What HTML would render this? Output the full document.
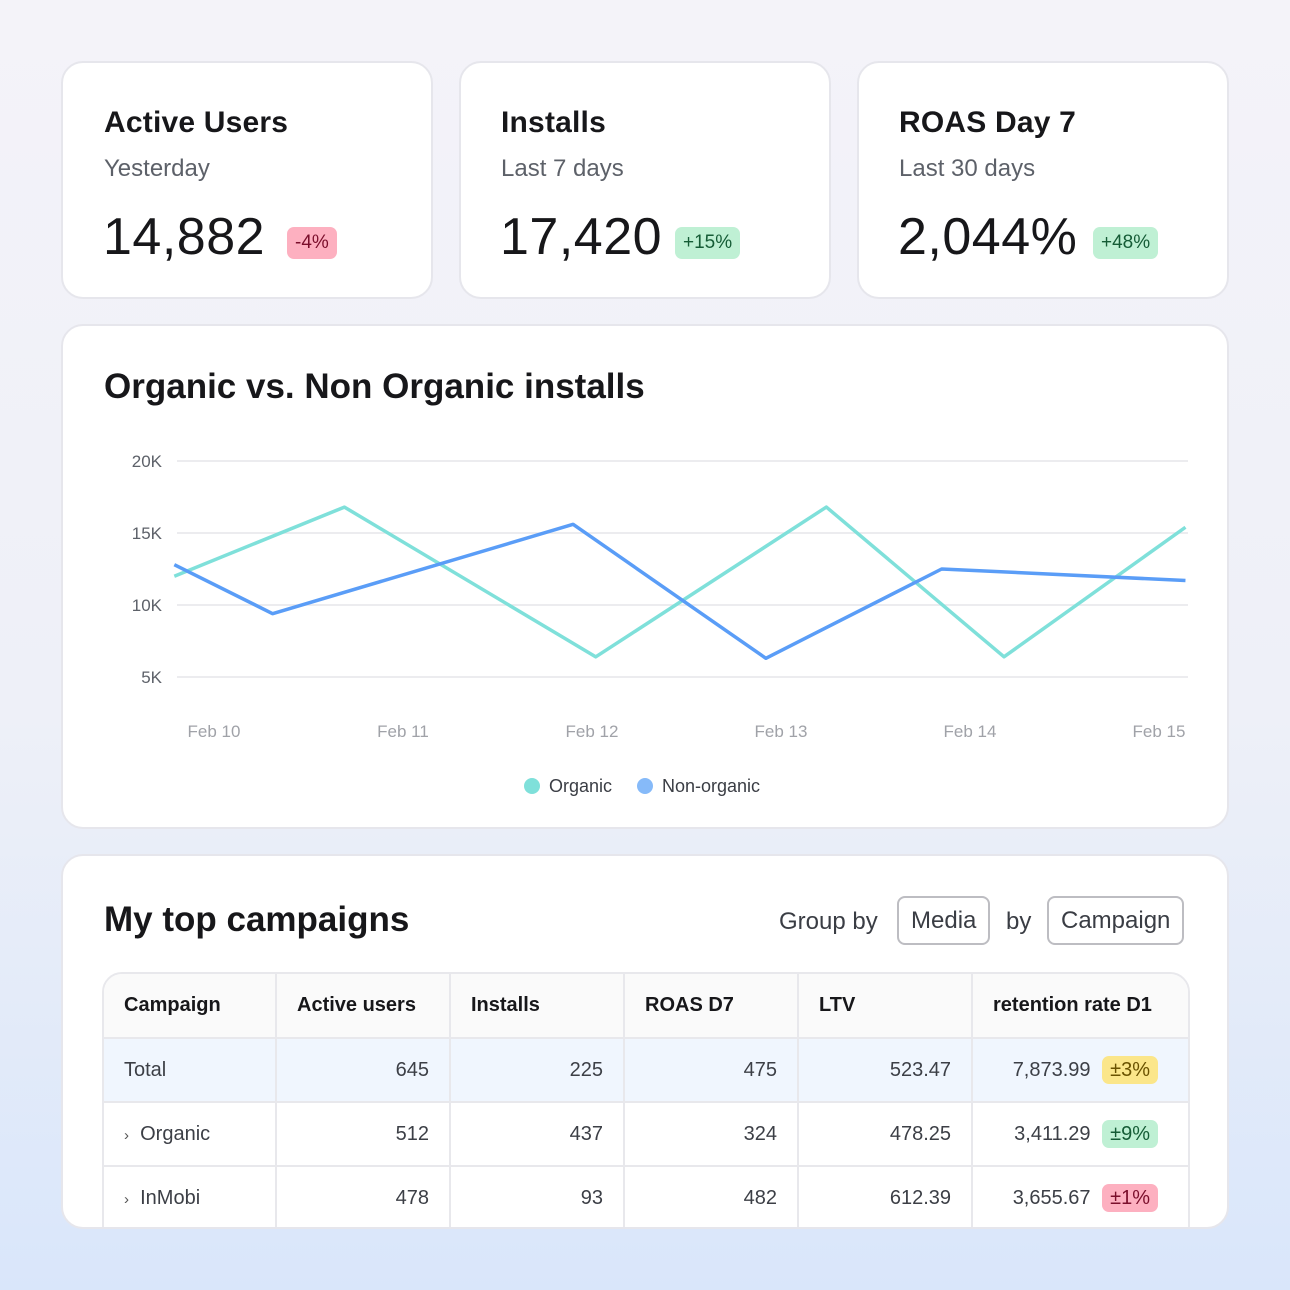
<!DOCTYPE html>
<html><head><meta charset="utf-8"><style>
*{box-sizing:border-box;margin:0;padding:0}
body{width:1290px;height:1290px;overflow:hidden;font-family:"Liberation Sans",sans-serif;background:linear-gradient(180deg,#f4f3f9 0%,#eef0f8 55%,#d9e6fa 100%);position:relative;color:#17171a}
.card{position:absolute;background:#fff;border:2px solid #e6e6ec;border-radius:22px;overflow:hidden}
.abs{position:absolute;white-space:nowrap}
.t{font-size:30px;font-weight:bold;letter-spacing:.2px}
.s{font-size:24px;color:#5d6169}
.big{font-size:52px;letter-spacing:0.5px}
.badge{position:absolute;font-size:19px;padding:5px 8px;border-radius:7px}
.neg{background:#fdb0c0;color:#7b0f2c}.pos{background:#bff0d4;color:#155c36}.yel{background:#fbe68a;color:#6a5200}
.btn{position:absolute;border:2px solid #bdbdc2;border-radius:8px;font-size:24px;color:#3a3d44;padding:0 12px;height:49px;line-height:45px}
table{border-collapse:collapse;position:absolute;left:40px;top:116px;font-size:20px}
td,th{border-right:2px solid #e8e8ec;border-bottom:2px solid #e8e8ec;height:64px;padding:0 20px}
th{font-weight:bold;text-align:left;background:#fafafa}
td{text-align:right;color:#3c3f46}
td:first-child{text-align:left}
tr.tot td{background:#f0f6fe}
td.rr{padding-right:30px}
.chev{font-size:15px;color:#555}
</style></head><body>
<div class="card" style="left:61px;top:61px;width:372px;height:238px">
 <div class="abs t" style="left:41px;top:43px">Active Users</div>
 <div class="abs s" style="left:41px;top:92px">Yesterday</div>
 <div class="abs big" style="left:40px;top:144px">14,882</div>
 <div class="badge neg" style="left:224px;top:164px">-4%</div>
</div>
<div class="card" style="left:459px;top:61px;width:372px;height:238px">
 <div class="abs t" style="left:40px;top:43px">Installs</div>
 <div class="abs s" style="left:40px;top:92px">Last 7 days</div>
 <div class="abs big" style="left:39px;top:144px">17,420</div>
 <div class="badge pos" style="left:214px;top:164px">+15%</div>
</div>
<div class="card" style="left:857px;top:61px;width:372px;height:238px">
 <div class="abs t" style="left:40px;top:43px">ROAS Day 7</div>
 <div class="abs s" style="left:40px;top:92px">Last 30 days</div>
 <div class="abs big" style="left:39px;top:144px">2,044%</div>
 <div class="badge pos" style="left:234px;top:164px">+48%</div>
</div>
<div class="card" style="left:61px;top:324px;width:1168px;height:505px">
 <div class="abs" style="left:41px;top:41px;font-size:35px;font-weight:bold">Organic vs. Non Organic installs</div>
 <svg id="chart" width="1168" height="505" style="position:absolute;left:-2px;top:-2px"></svg>
</div>
<div class="card" style="left:61px;top:854px;width:1168px;height:375px">
 <div class="abs" style="left:41px;top:44px;font-size:35px;font-weight:bold">My top campaigns</div>
 <div class="abs s" style="left:716px;top:52px;color:#3a3d44">Group by</div>
 <div class="btn" style="left:834px;top:40px">Media</div>
 <div class="abs s" style="left:943px;top:52px;color:#3a3d44">by</div>
 <div class="btn" style="left:984px;top:40px">Campaign</div>
 <div class="abs" style="left:39px;top:116px;width:1088px;height:300px;border:2px solid #e8e8ec;border-radius:20px;overflow:hidden">
 <table style="left:0;top:0;width:1086px">
  <colgroup><col style="width:172px"><col style="width:174px"><col style="width:174px"><col style="width:174px"><col style="width:174px"><col></colgroup>
  <tr><th>Campaign</th><th>Active users</th><th>Installs</th><th>ROAS D7</th><th>LTV</th><th>retention rate D1</th></tr>
  <tr class="tot"><td>Total</td><td>645</td><td>225</td><td>475</td><td>523.47</td><td class="rr">7,873.99 <span class="yel" style="padding:3px 8px;border-radius:7px;margin-left:6px">±3%</span></td></tr>
  <tr><td><span class="chev">›</span> &nbsp;Organic</td><td>512</td><td>437</td><td>324</td><td>478.25</td><td class="rr">3,411.29 <span class="pos" style="padding:3px 8px;border-radius:7px;margin-left:6px">±9%</span></td></tr>
  <tr><td><span class="chev">›</span> &nbsp;InMobi</td><td>478</td><td>93</td><td>482</td><td>612.39</td><td class="rr">3,655.67 <span class="neg" style="padding:3px 8px;border-radius:7px;margin-left:6px">±1%</span></td></tr>
 </table></div>
</div>
<script>
const yTicks=[5,10,15,20];
const xLabels=["Feb 10","Feb 11","Feb 12","Feb 13","Feb 14","Feb 15"];
const organicDays=[9.79,10.69,12.02,13.24,14.18,15.14];
const organicValues=[12.0,16.8,6.4,16.8,6.4,15.4];
const nonOrganicDays=[9.79,10.31,11.90,12.92,13.85,15.14];
const nonOrganicValues=[12.8,9.4,15.6,6.3,12.5,11.7];
const svg=document.getElementById('chart');const NS='http://www.w3.org/2000/svg';
const ox=-61,oy=-324;
const y=v=>461+(20-v)*14.4+oy;
const x=d=>214+(d-10)*189+ox;
function mk(t,a){const e=document.createElementNS(NS,t);for(const k in a)e.setAttribute(k,a[k]);svg.appendChild(e);return e;}
yTicks.forEach(v=>{const g=mk('line',{x1:177+ox,x2:1188+ox,y1:y(v),y2:y(v),stroke:'#e6e6ea','stroke-width':1.5});

const t=mk('text',{x:162+ox,y:y(v)+6,'text-anchor':'end','font-size':17,fill:'#5d6169','font-family':'Liberation Sans'});t.textContent=v+'K';
});
xLabels.forEach((l,i)=>{const t=mk('text',{x:x(10+i),y:737+oy,'text-anchor':'middle','font-size':17,fill:'#a0a2a8','font-family':'Liberation Sans'});t.textContent=l;
});
function line(ds,vs,c,n){const p=mk('polyline',{points:ds.map((d,i)=>x(d)+','+y(vs[i])).join(' '),fill:'none',stroke:c,'stroke-width':3.5,'stroke-linejoin':'round'});
}
line(organicDays,organicValues,'#7fe0da','organic-line');
line(nonOrganicDays,nonOrganicValues,'#5a9df7','non-organic-line');
[[532,'#7fe0da','Organic','legend-organic'],[645,'#86baf9','Non-organic','legend-non-organic']].forEach(a=>{
const c=mk('circle',{cx:a[0]+ox,cy:786+oy,r:8,fill:a[1]});
const t=mk('text',{x:a[0]+17+ox,y:792+oy,'font-size':18,fill:'#3a3d44','font-family':'Liberation Sans'});t.textContent=a[2];
});
</script>
</body></html>
